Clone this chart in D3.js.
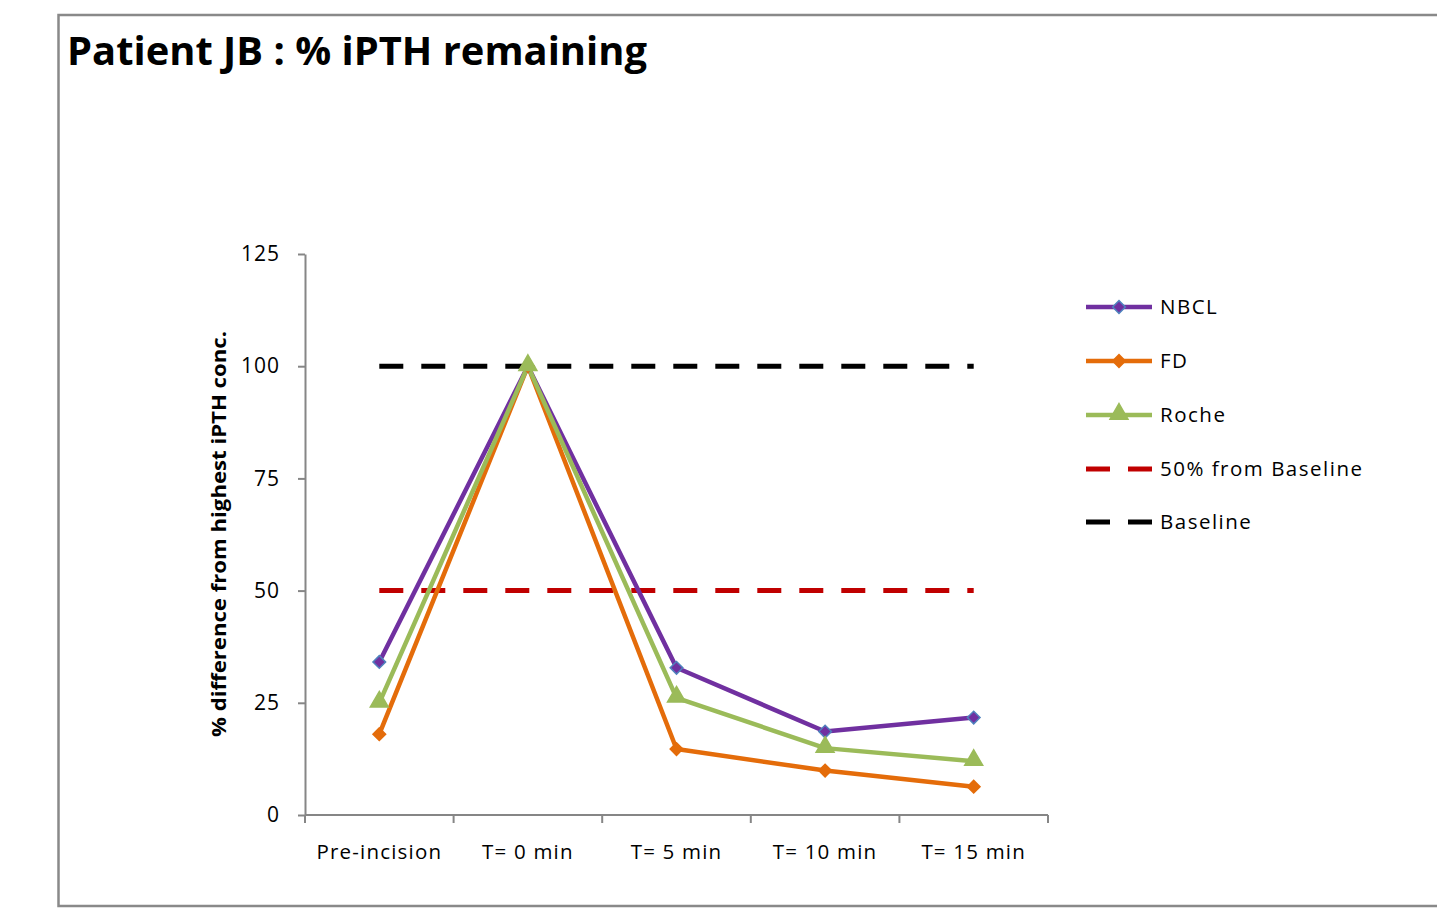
<!DOCTYPE html>
<html>
<head>
<meta charset="utf-8">
<script src="https://cdn.jsdelivr.net/npm/d3@7"></script>
<style>
  html, body { margin: 0; padding: 0; background: #fff; }
  svg { display: block; }
  text { font-family: "Open Sans", "Liberation Sans", sans-serif; fill: #000; }
</style>
</head>
<body>
<svg id="chart" width="1437" height="908"></svg>
<script>
// Sampling points
const categories = ["Pre-incision", "T= 0 min", "T= 5 min", "T= 10 min", "T= 15 min"];

// % iPTH remaining per assay
const nbcl  = [34.1, 100, 32.8, 18.6, 21.7];
const fd    = [18.0, 100, 14.7, 9.9, 6.3];
const roche = [25.0, 100, 26.1, 14.9, 12.0];

// Reference levels
const halfBaseline = [50, 50, 50, 50, 50];
const baseline = [100, 100, 100, 100, 100];

const yTicks = [0, 25, 50, 75, 100, 125];

const series = [
  { name: "NBCL", values: nbcl, color: "#7030A0", marker: "diamond", markerFill: "#7030A0", markerStroke: "#4F81BD" },
  { name: "FD", values: fd, color: "#E46C0A", marker: "diamond", markerFill: "#E46C0A", markerStroke: "#E46C0A" },
  { name: "Roche", values: roche, color: "#9BBB59", marker: "triangle", markerFill: "#9BBB59", markerStroke: "#9BBB59" },
  { name: "50% from Baseline", values: halfBaseline, color: "#C00000", dashed: true },
  { name: "Baseline", values: baseline, color: "#000000", dashed: true }
];

const svg = d3.select("#chart");
const W = 1437, H = 908;

// Chart frame (open on the right edge)
svg.append("path")
  .attr("d", `M${W},15 H58.5 V906 H${W}`)
  .attr("fill", "none")
  .attr("stroke", "#898989")
  .attr("stroke-width", 2.5);

// Title
svg.append("text")
  .attr("x", 67).attr("y", 65)
  .attr("font-size", 39).attr("font-weight", "bold")
  .attr("textLength", 580).attr("lengthAdjust", "spacingAndGlyphs")
  .text("Patient JB : % iPTH remaining");

const plot = { left: 305, right: 1048, top: 254, bottom: 815 };

const x = d3.scaleBand().domain(categories).range([plot.left, plot.right]);
const y = d3.scaleLinear().domain([0, 125]).range([plot.bottom, plot.top]);

const axisColor = "#868686";

// Y axis
const yAxis = svg.append("g")
  .attr("transform", `translate(${plot.left},0)`)
  .call(d3.axisLeft(y).tickValues(yTicks).tickSize(7).tickPadding(18).tickSizeOuter(0));
yAxis.select(".domain").attr("stroke", axisColor).attr("stroke-width", 2);
yAxis.selectAll(".tick line").attr("stroke", axisColor).attr("stroke-width", 2);
yAxis.selectAll(".tick text")
  .attr("font-size", 21)
  .attr("letter-spacing", 1)
  .attr("font-family", "'Open Sans', 'Liberation Sans', sans-serif")
  .attr("fill", "#000");

// X axis with ticks at category boundaries
const xAxisG = svg.append("g").attr("transform", `translate(0,${plot.bottom})`);
xAxisG.append("line")
  .attr("x1", plot.left).attr("x2", plot.right)
  .attr("stroke", axisColor).attr("stroke-width", 2);
const boundaries = categories.map(c => x(c)).concat([x.range()[1]]);
xAxisG.selectAll("line.tick")
  .data(boundaries)
  .join("line")
  .attr("class", "tick")
  .attr("x1", d => d).attr("x2", d => d)
  .attr("y1", 0).attr("y2", 8)
  .attr("stroke", axisColor).attr("stroke-width", 2);
xAxisG.selectAll("text")
  .data(categories)
  .join("text")
  .attr("x", d => x(d) + x.bandwidth() / 2)
  .attr("y", 44)
  .attr("text-anchor", "middle")
  .attr("font-size", 20.5)
  .attr("letter-spacing", 1.2)
  .text(d => d);

// Y axis title
svg.append("text")
  .attr("transform", `translate(226,534) rotate(-90)`)
  .attr("text-anchor", "middle")
  .attr("font-size", 20).attr("font-weight", "bold")
  .attr("textLength", 406).attr("lengthAdjust", "spacingAndGlyphs")
  .text("% difference from highest iPTH conc.");

const cx = c => x(c) + x.bandwidth() / 2;

const line = d3.line()
  .x((d, i) => cx(categories[i]))
  .y(d => y(d));

// Reference dashed lines first, then measured series on top
const drawOrder = [series[3], series[4], series[0], series[1], series[2]];
drawOrder.forEach(s => {
  svg.append("path")
    .datum(s.values)
    .attr("d", line)
    .attr("fill", "none")
    .attr("stroke", s.color)
    .attr("stroke-width", s.dashed ? 5 : 4.5)
    .attr("stroke-linejoin", "round")
    .attr("stroke-dasharray", s.dashed ? "24 18" : null);
});

const triangle = d3.symbol().type(d3.symbolTriangle).size(140);
const square = d3.symbol().type(d3.symbolSquare).size(80);

function drawMarker(g, s, px, py) {
  if (!s.marker) return;
  g.append("path")
    .attr("transform", s.marker === "triangle" ? `translate(${px},${py - 1})` : `translate(${px},${py}) rotate(45)`)
    .attr("d", s.marker === "triangle" ? triangle() : square())
    .attr("fill", s.markerFill)
    .attr("stroke", s.markerStroke)
    .attr("stroke-width", 1.5);
}

[series[0], series[1], series[2]].forEach(s => {
  const g = svg.append("g");
  s.values.forEach((v, i) => drawMarker(g, s, cx(categories[i]), y(v)));
});

// Legend
const legendY = [307, 361, 415, 469, 522];
series.forEach((s, i) => {
  const g = svg.append("g").attr("transform", `translate(0,${legendY[i]})`);
  if (s.dashed) {
    g.append("line").attr("x1", 1086).attr("x2", 1110).attr("stroke", s.color).attr("stroke-width", 5);
    g.append("line").attr("x1", 1128).attr("x2", 1152).attr("stroke", s.color).attr("stroke-width", 5);
  } else {
    g.append("line").attr("x1", 1086).attr("x2", 1152).attr("stroke", s.color).attr("stroke-width", 4.5);
    drawMarker(g, s, 1119, 0);
  }
  g.append("text")
    .attr("x", 1160).attr("y", 7)
    .attr("font-size", 20.5)
    .attr("letter-spacing", 1.5)
    .text(s.name);
});
</script>
</body>
</html>
